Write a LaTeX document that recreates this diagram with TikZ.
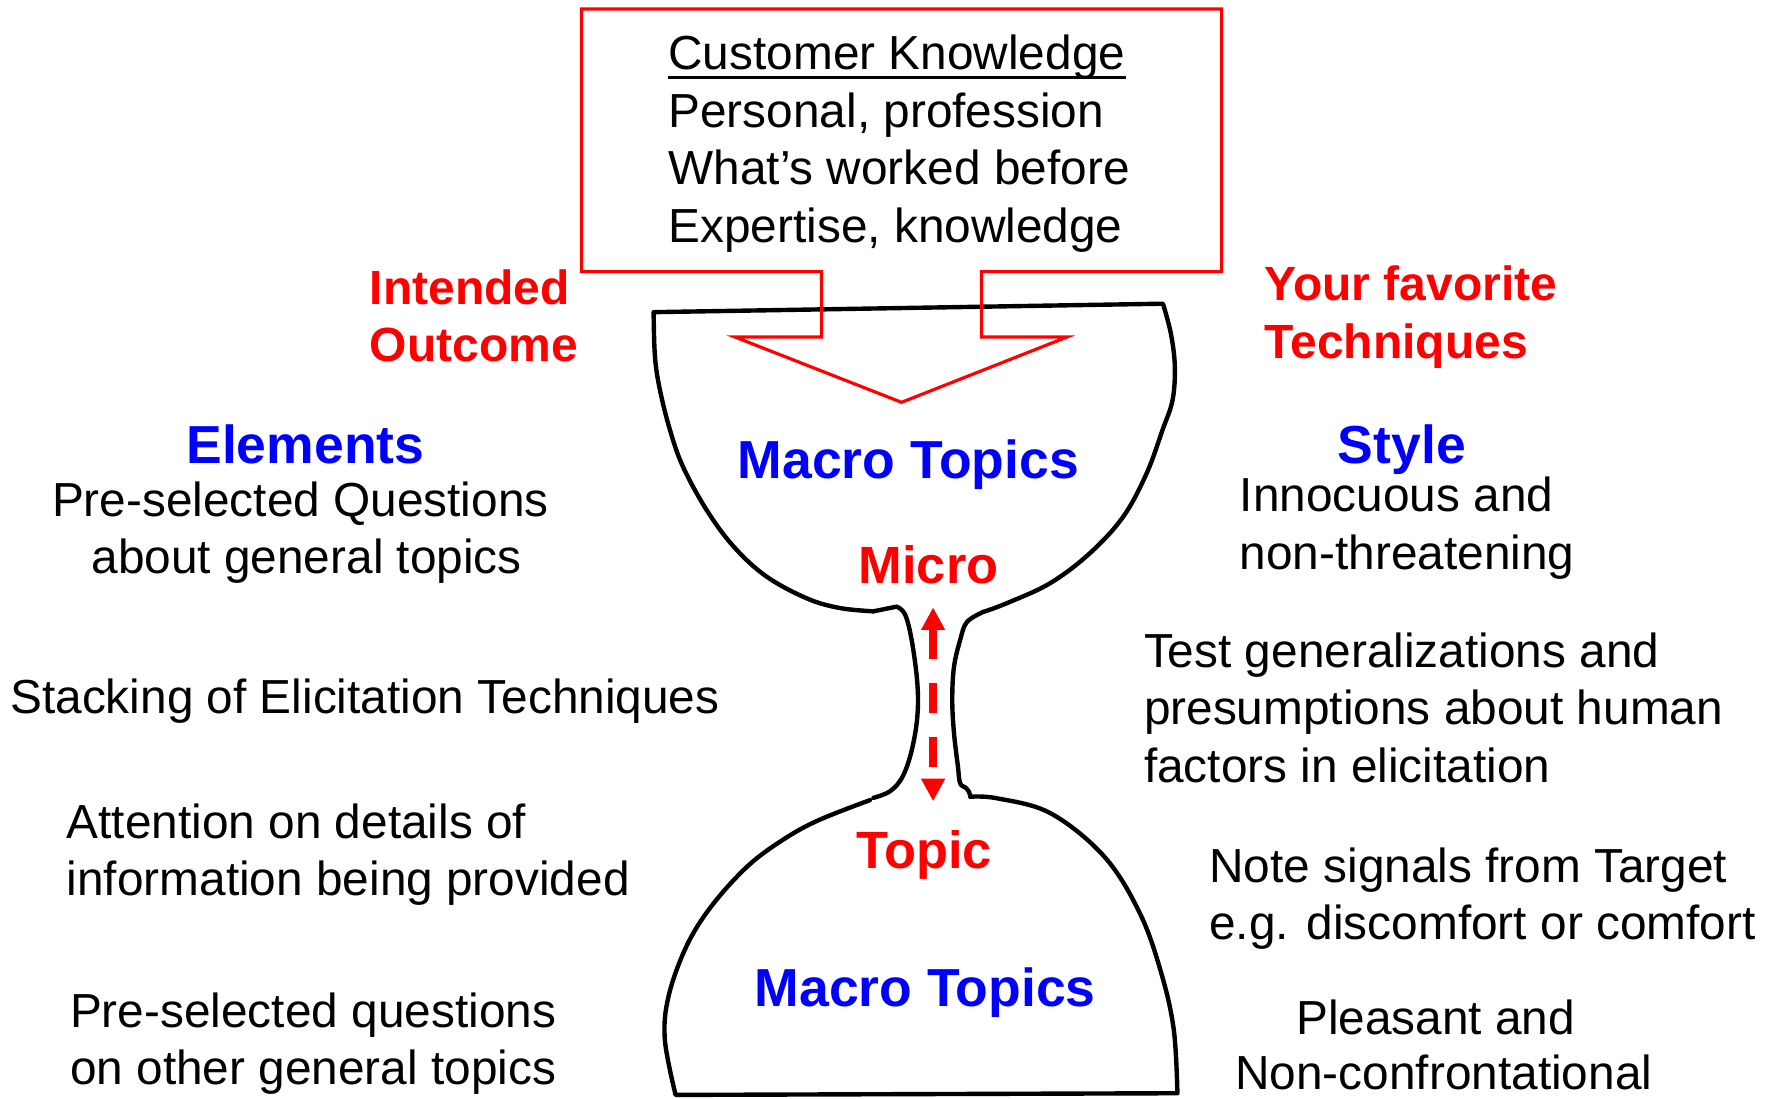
\documentclass[tikz,border=0pt]{standalone}
\usepackage{fontspec}
\setmainfont{Liberation Sans}
\usetikzlibrary{arrows.meta}
\definecolor{pptred}{RGB}{255,0,0}
\definecolor{pptblue}{RGB}{0,0,255}
\begin{document}
\begin{tikzpicture}[x=1pt,y=-1pt,
  body/.style={inner sep=0pt, font=\fontsize{42.4}{51}\selectfont, text=black},
  redhead/.style={inner sep=0pt, font=\fontsize{42.6}{51}\selectfont\bfseries, text=pptred},
  bluehead/.style={inner sep=0pt, font=\fontsize{47.5}{56}\selectfont\bfseries, text=pptblue},
  flowlabel/.style={inner sep=0pt, font=\fontsize{46.5}{55}\selectfont\bfseries, text=pptred},
  glass/.style={draw=black, line width=3.9pt, line join=round, line cap=round},
  callout/.style={draw=pptred, line width=2.8pt, line join=miter},
  flowarrow/.style={draw=pptred, line width=6.5pt, dash pattern=on 27pt off 21pt,
    {Triangle[length=20pt,width=20pt]}-{Triangle[length=20pt,width=20pt]}}
]
\useasboundingbox (0,0) rectangle (1568,975);

% hourglass: upper bowl
\draw[glass] plot[smooth, tension=0.6] coordinates {(775,542.5) (745,539.5) (716,531) (680,511.5) (651,485) (627,452.5) (606,414) (594.5,381.5) (585.6,346) (581.2,316.5) (580,277)}
  -- plot[smooth, tension=0.6] coordinates {(1032,269.5) (1039,296) (1042.5,325) (1040.5,355) (1031.6,381.5) (1017.5,420) (996.7,458.5) (967,491) (931.7,517.6) (893.3,535.3) (872.5,543)};
% neck, left and right walls
\draw[glass] (775,542.5) -- (795.6,538.3)
  -- plot[smooth, tension=0.6] coordinates {(795.6,538.3) (803,545) (809,568) (814,606) (814,636) (809,666) (801,689) (790,702) (775,708)};
\draw[glass] plot[smooth, tension=0.6] coordinates {(872.5,543) (858,552) (852,568) (846.5,592) (845,621) (846.5,650) (850,680) (852,695) (857,699) (860,703) (861,707)};
% lower bowl
\draw[glass] plot[smooth, tension=0.6] coordinates {(772,710) (726,728) (694.6,745.3) (663,769) (631,804.5) (609,840) (593.2,884.3) (590,922.8) (599.5,971.6)}
  -- plot[smooth, tension=0.6] coordinates {(1044.8,970.1) (1041.6,913.9) (1030.5,863.6) (1011.5,810.4) (979.9,760.1) (932.3,721.7) (884.8,708.4) (861,707)};

% customer knowledge callout
\draw[callout] (516,8) -- (1084,8) -- (1084,241) -- (871,241) -- (871,299) -- (947,299)
  -- (800,357) -- (652,299) -- (729,299) -- (729,241) -- (516,241) -- cycle;
\node[body, anchor=base west] (ck1) at (593,62) {Customer Knowledge};
\draw[line width=2.7pt] ([yshift=-6.6pt]ck1.base west) -- ([yshift=-6.6pt]ck1.base east);
\node[body, anchor=base west] (ck2) at (593,113) {Personal, profession};
\node[body, anchor=base west] (ck3) at (593,164) {What’s worked before};
\node[body, anchor=base west] (ck4) at (593,215) {Expertise, knowledge};

% red headings
\node[redhead, anchor=base west] (io1) at (328,270) {Intended};
\node[redhead, anchor=base west] (io2) at (328,321) {Outcome};
\node[redhead, anchor=base west] (yf1) at (1122,267) {Your favorite};
\node[redhead, anchor=base west] (yf2) at (1122,318) {Techniques};

% blue headings
\node[bluehead, anchor=base] (elem) at (271,411) {Elements};
\node[bluehead, anchor=base] (style) at (1244,411) {Style};
\node[bluehead, anchor=base] (macroA) at (806,425) {Macro Topics};
\node[bluehead, anchor=base] (macroB) at (821,893) {Macro Topics};

% micro / topic flow
\node[flowlabel, anchor=base] (micro) at (824,518) {Micro};
\node[flowlabel, anchor=base] (topic) at (820,771) {Topic};
\coordinate (neckTop) at (828,539);
\coordinate (neckBot) at (828,711);
\draw[flowarrow] (neckTop) -- (neckBot);

% left column
\node[body, anchor=base west] (el1) at (46,458) {Pre-selected Questions};
\node[body, anchor=base west] (el2) at (81,509) {about general topics};
\node[body, anchor=base west] (stack) at (9,633) {Stacking of Elicitation Techniques};
\node[body, anchor=base west] (att1) at (59,744) {Attention on details of};
\node[body, anchor=base west] (att2) at (59,795) {information being provided};
\node[body, anchor=base west] (oq1) at (62,912) {Pre-selected questions};
\node[body, anchor=base west] (oq2) at (62,962) {on other general topics};

% right column
\node[body, anchor=base west] (st1) at (1100,454) {Innocuous and};
\node[body, anchor=base west] (st2) at (1100,505) {non-threatening};
\node[body, anchor=base west] (tg1) at (1015,592) {Test generalizations and};
\node[body, anchor=base west] (tg2) at (1015,643) {presumptions about human};
\node[body, anchor=base west] (tg3) at (1015,694) {factors in elicitation};
\node[body, anchor=base west] (ns1) at (1073,783) {Note signals from Target};
\node[body, anchor=base west] (ns2) at (1073,834) {e.g. discomfort or comfort};
\node[body, anchor=base west] (pl1) at (1150,918) {Pleasant and};
\node[body, anchor=base west] (pl2) at (1096,967) {Non-confrontational};
\end{tikzpicture}
\end{document}
